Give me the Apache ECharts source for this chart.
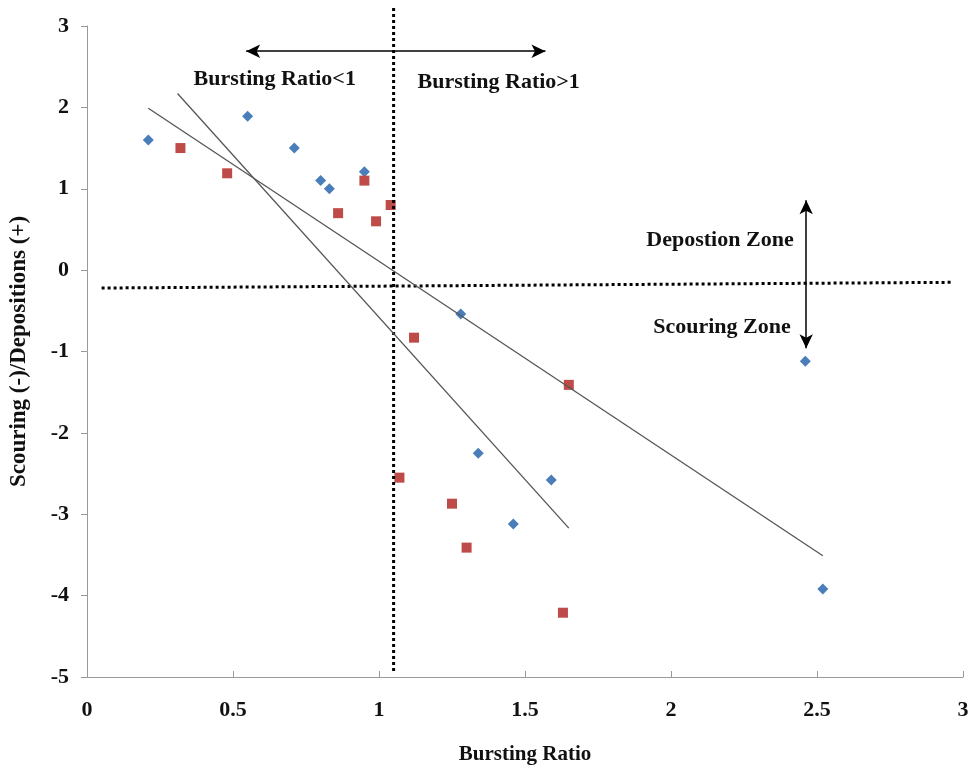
<!DOCTYPE html>
<html><head><meta charset="utf-8">
<script src="https://cdn.jsdelivr.net/npm/echarts@6/dist/echarts.min.js"></script>
<style>html,body{margin:0;padding:0;background:#fff}#c{width:972px;height:770px}</style>
</head><body><div id="c"></div>
<script>
// Data
const blueX = [0.21, 0.55, 0.71, 0.80, 0.83, 0.95, 1.28, 1.34, 1.46, 1.59, 2.46, 2.52];
const blueY = [1.60, 1.89, 1.50, 1.10, 1.00, 1.21, -0.54, -2.25, -3.12, -2.58, -1.12, -3.92];
const redX = [0.32, 0.48, 0.86, 0.95, 0.99, 1.04, 1.12, 1.07, 1.25, 1.30, 1.65, 1.63];
const redY = [1.50, 1.19, 0.70, 1.10, 0.60, 0.80, -0.83, -2.55, -2.87, -3.41, -1.41, -4.21];
const trend1 = [[0.21, 1.99], [2.52, -3.51]];
const trend2 = [[0.31, 2.17], [1.65, -3.17]];
const vLine = [[1.05, 3.22], [1.05, -4.94]];
const hLine = [[0.05, -0.22], [2.96, -0.15]];
const hArrow = [[0.545, 2.69], [1.57, 2.69]];
const vArrow = [[2.463, 0.86], [2.463, -0.96]];
const xTicks = [0, 0.5, 1, 1.5, 2, 2.5, 3];
const yTicks = [-5, -4, -3, -2, -1, 0, 1, 2, 3];
const notes = [
  {name: 'Bursting Ratio<1', value: [0.643, 2.35], align: 'center'},
  {name: 'Bursting Ratio>1', value: [1.41, 2.31], align: 'center'},
  {name: 'Depostion Zone', value: [2.42, 0.37], align: 'right'},
  {name: 'Scouring Zone', value: [2.41, -0.70], align: 'right'}
];

const font = '"Liberation Serif", "DejaVu Serif", serif';
const zip = (a, b) => a.map((v, i) => [v, b[i]]);
const txt = {fontFamily: font, fontWeight: 'bold', color: '#111', textBorderWidth: 0};

const chart = echarts.init(document.getElementById('c'));
chart.setOption({
  animation: false,
  backgroundColor: '#fff',
  grid: {left: 86, right: 9, top: 26, bottom: 93},
  xAxis: {
    type: 'value', min: 0, max: 3, interval: 0.5,
    name: 'Bursting Ratio', nameLocation: 'middle', nameGap: 67,
    nameTextStyle: Object.assign({fontSize: 21}, txt),
    axisLine: {show: true, onZero: false, lineStyle: {color: '#999', width: 1}},
    axisTick: {show: true, inside: true, length: 6, lineStyle: {color: '#999'}},
    axisLabel: Object.assign({fontSize: 22, margin: 22,
      formatter: v => xTicks.includes(v) ? String(v) : ''}, txt),
    splitLine: {show: false}
  },
  yAxis: {
    type: 'value', min: -5, max: 3, interval: 1,
    name: 'Scouring (-)/Depositions (+)', nameLocation: 'middle', nameGap: 56,
    nameTextStyle: Object.assign({fontSize: 23}, txt),
    axisLine: {show: true, onZero: false, lineStyle: {color: '#999', width: 1}},
    axisTick: {show: true, inside: false, length: 6, lineStyle: {color: '#999'}},
    axisLabel: Object.assign({fontSize: 22, margin: 18,
      formatter: v => yTicks.includes(v) ? String(v) : ''}, txt),
    splitLine: {show: false}
  },
  series: [
    {type: 'line', data: vLine, symbol: 'none', clip: false, silent: true,
      lineStyle: {color: '#000', width: 3, type: [3, 3]}},
    {type: 'line', data: hLine, symbol: 'none', clip: false, silent: true,
      lineStyle: {color: '#000', width: 3, type: [3, 3]}},
    {type: 'line', data: trend1, symbol: 'none', lineStyle: {color: '#555', width: 1.3}},
    {type: 'line', data: trend2, symbol: 'none', lineStyle: {color: '#555', width: 1.3}},
    {type: 'scatter', data: zip(blueX, blueY), symbol: 'diamond', symbolSize: 11,
      itemStyle: {color: '#4A7EBB', opacity: 1}},
    {type: 'scatter', data: zip(redX, redY), symbol: 'rect', symbolSize: 10,
      itemStyle: {color: '#BE4B48', opacity: 1}},
    {type: 'line', data: [], silent: true,
      markLine: {silent: true, symbol: ['arrow', 'arrow'], symbolSize: [10, 14], label: {show: false},
        lineStyle: {color: '#000', width: 1.5, type: 'solid'},
        data: [
          [{coord: hArrow[0]}, {coord: hArrow[1]}],
          [{coord: vArrow[0]}, {coord: vArrow[1]}]
        ]}},
    {type: 'scatter', symbolSize: 0, silent: true, itemStyle: {opacity: 1},
      data: notes.map(n => ({name: n.name, value: n.value,
        label: Object.assign({show: true, position: 'inside', align: n.align, verticalAlign: 'middle',
          formatter: '{b}', fontSize: 22}, txt)}))}
  ]
});
</script></body></html>
